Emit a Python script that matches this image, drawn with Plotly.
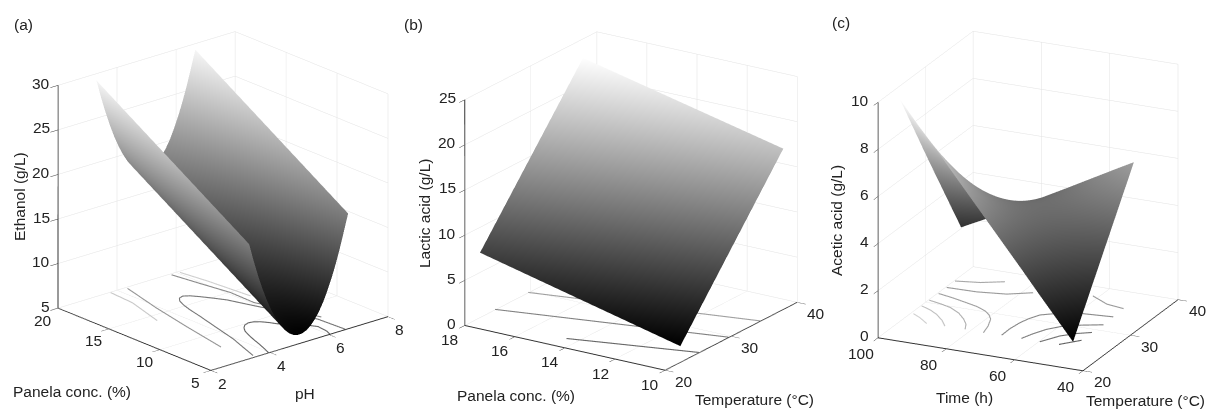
import plotly.graph_objects as go

FONT = "Liberation Sans, Arial, sans-serif"
TEXT = "#222222"
W, H = 1208, 410

# ---------- panel (a) ----------
a_ph = [3.3,3.45,3.6,3.75,3.9,4.05,4.2,4.35,4.5,4.65,4.8,4.95,5.09,5.24,5.38,5.52,5.66,5.8,5.94,6.08,6.22,6.36,6.5,6.65]
a_panela = [5, 10, 15, 20]
a_z5  = [17.85,15.85,14.04,12.41,10.96,9.70,8.62,7.73,7.03,6.50,6.16,6.01,6.04,6.25,6.63,7.18,7.91,8.81,9.90,11.15,12.58,14.19,15.97,17.93]
a_z10 = [21.65,19.65,17.84,16.21,14.76,13.50,12.42,11.53,10.83,10.30,9.96,9.81,9.84,10.05,10.43,10.98,11.71,12.61,13.70,14.95,16.38,17.99,19.77,21.73]
a_z15 = [25.45,23.45,21.64,20.01,18.56,17.30,16.22,15.33,14.63,14.10,13.76,13.61,13.64,13.85,14.23,14.78,15.51,16.41,17.50,18.75,20.18,21.79,23.57,25.53]
a_z20 = [29.25,27.25,25.44,23.81,22.36,21.10,20.02,19.13,18.43,17.90,17.56,17.41,17.44,17.65,18.03,18.58,19.31,20.21,21.30,22.55,23.98,25.59,27.37,29.33]
a_contours = [
    ([3.95,4.16,4.28,4.41,4.52,4.65,4.8,4.98,5.12,5.26,5.38,5.49,5.9,6.15,6.1,6.02],
     [5,6.44,7.4,8.32,8.95,9.43,9.78,9.94,9.85,9.58,9.15,8.6,7.6,6.5,5.5,5], "#666666"),
    ([3.51,3.71,3.92,4.07,4.22,4.35,4.47,4.57,4.68,4.82,4.98,5.13,5.28,5.46,5.65,5.96,6.3,6.5,6.55],
     [5.24,6.8,8.4,10.0,11.56,12.9,14.25,15.15,15.82,16.25,16.37,16.1,15.58,14.85,13.99,11.61,9.5,7.5,5], "#777777"),
    ([4.27,3.9,3.6,3.29], [19.76,15.88,12.07,7.74], "#959595"),
    ([3.74,3.68,3.31], [19.87,17.57,14.06], "#c8c8c8"),
    ([5.77,5.91,6.07,6.05,6.67], [19.78,17.39,14.87,12.5,7.69], "#8a8a8a"),
    ([6.05,6.17,6.3], [19.76,17.47,13.56], "#cfcfcf"),
]
a_xt, a_yt, a_zt = [2,4,6,8], [5,10,15,20], [5,10,15,20,25,30]

# ---------- panel (b) ----------
b_temp = [22.3, 37.9]
b_panela = [10, 18]
b_z10 = [1.8, 17.8]
b_z18 = [7.2, 22.9]
b_contours = [
    ([21.9,25.1], [14.44,10], "#666666"),
    ([24.6,29.6], [18,10], "#808080"),
    ([29.6,34.4], [18,10], "#a0a0a0"),
]
b_xt, b_yt, b_zt = [20,30,40], [10,12,14,16,18], [0,5,10,15,20,25]

# ---------- panel (c) ----------
c_temp = [23.6,24.88,26.16,27.44,28.72,30.0,31.28,32.56,33.84,35.12,36.4]
c_time = [47.9,52.9,57.9,62.8,67.8,72.8,77.8,82.8,87.7,93.0,98.5]
c_z = [
    [0.50,1.07,1.64,2.21,2.78,3.35,3.92,4.49,5.06,5.63,6.20],
    [1.40,1.84,2.28,2.72,3.16,3.60,4.04,4.48,4.92,5.36,5.81],
    [2.30,2.61,2.92,3.23,3.54,3.86,4.17,4.48,4.79,5.10,5.41],
    [3.20,3.38,3.56,3.74,3.93,4.11,4.29,4.47,4.65,4.83,5.02],
    [4.10,4.15,4.20,4.26,4.31,4.36,4.41,4.46,4.52,4.57,4.62],
    [5.00,4.92,4.85,4.77,4.69,4.61,4.54,4.46,4.38,4.30,4.23],
    [5.90,5.69,5.49,5.28,5.07,4.87,4.66,4.45,4.24,4.04,3.83],
    [6.80,6.46,6.13,5.79,5.45,5.12,4.78,4.44,4.11,3.77,3.44],
    [7.70,7.23,6.77,6.30,5.84,5.37,4.90,4.44,3.97,3.51,3.04],
    [8.60,8.00,7.41,6.81,6.22,5.62,5.03,4.43,3.84,3.24,2.65],
    [9.60,8.85,8.10,7.36,6.61,5.88,5.15,4.43,3.70,2.98,2.25],
]
c_contours = [
    ([35.9,36.5,37.6], [99.6,93.0,87.3], "#a8a8a8"),
    ([34.1,34.2,34.8,36.1], [99.5,90.8,82.9,77.0], "#9a9a9a"),
    ([32.4,31.9,31.3,30.8,30.1,29.3,28.4,26.7,25.0], [99.5,94.5,89.8,86.0,82.7,80.4,78.7,77.1,76.1], "#a0a0a0"),
    ([30.5,30.1,29.6,28.6,27.4,26.3,25.1], [99.6,95.8,92.2,88.3,85.2,83.0,81.6], "#b0b0b0"),
    ([28.9,28.3,27.5,26.3,25.1], [99.6,96.3,93.3,90.0,87.5], "#c0c0c0"),
    ([26.8,26.1,25.0], [99.1,96.2,92.7], "#d0d0d0"),
    ([25.1,26.9,28.7,30.0,31.2,32.2,33.1,33.5], [70.9,71.0,70.5,69.6,68.2,64.6,58.6,49.9], "#8a8a8a"),
    ([25.1,26.6,28.1,29.8,31.3], [65.1,63.8,62.0,58.4,49.7], "#808080"),
    ([25.0,27.1,28.3,29.1], [59.6,56.6,53.3,50.0], "#707070"),
    ([25.1,26.9], [54.1,50.0], "#606060"),
    ([37.6,36.2,35.8], [61.6,55.5,50.1], "#999999"),
]
c_xt, c_yt, c_zt = [20,30,40], [40,60,80,100], [0,2,4,6,8,10]

panels = [
    dict(scene="scene", x=a_ph, y=a_panela, z=[a_z5,a_z10,a_z15,a_z20], cmin=6, cmax=30.2,
         contours=a_contours, xt=a_xt, yt=a_yt, zt=a_zt, eye=(-.612,-.709,.352),
         dom=(0,446), aspect=(1.164,1.164,1.184), xshift=(12,-13), yshift=(-15,-12), zshift=-6),
    dict(scene="scene2", x=b_temp, y=b_panela, z=[b_z10,b_z18], cmin=1.8, cmax=23,
         contours=b_contours, xt=b_xt, yt=b_yt, zt=b_zt, eye=(-.786,-.518,.339),
         dom=(446,816), aspect=(1.194,1.194,1.194), xshift=(19,-11), yshift=(-15,-14), zshift=-7),
    dict(scene="scene3", x=c_temp, y=c_time, z=c_z, cmin=0.5, cmax=9.7,
         contours=c_contours, xt=c_xt, yt=c_yt, zt=c_zt, eye=(-.851,-.395,.347),
         dom=(848,1208), aspect=(1.124,1.124,1.249), xshift=(20,-11), yshift=(-17,-16), zshift=-7),
]

fig = go.Figure()
layout = {}

def axis(vals):
    return dict(range=[vals[0], vals[-1]], tickmode="array", tickvals=vals,
                showticklabels=False, title=dict(text=""), showbackground=False,
                showgrid=True, gridcolor="#e2e2e2", gridwidth=1,
                showline=True, linecolor="#333333", linewidth=2,
                ticks="outside", ticklen=10, tickcolor="#333333", tickwidth=1,
                zeroline=False, showspikes=False, autorange=False)

def tick_note(x, y, z, text, xshift, yshift, xanchor="center"):
    return dict(x=x, y=y, z=z, text=str(text), showarrow=False, xanchor=xanchor, yanchor="middle",
                xshift=xshift, yshift=yshift, font=dict(family=FONT, size=15.5, color=TEXT))

for p in panels:
    fig.add_trace(go.Surface(x=p["x"], y=p["y"], z=p["z"], scene=p["scene"], showscale=False,
                             cmin=p["cmin"], cmax=p["cmax"],
                             colorscale=[[0,"#000000"],[1,"#ffffff"]],
                             lighting=dict(ambient=1,diffuse=0,specular=0,fresnel=0,roughness=1),
                             hoverinfo="skip"))
    floor = p["zt"][0] + (p["zt"][-1] - p["zt"][0]) * 0.002
    for cx, cy, col in p["contours"]:
        fig.add_trace(go.Scatter3d(x=cx, y=cy, z=[floor]*len(cx), mode="lines", scene=p["scene"],
                                   line=dict(color=col, width=2.2), showlegend=False, hoverinfo="skip"))
    xt, yt, zt = p["xt"], p["yt"], p["zt"]
    notes = []
    for v in xt:
        notes.append(tick_note(v, yt[0], zt[0], v, *p["xshift"]))
    for v in yt:
        notes.append(tick_note(xt[0], v, zt[0], v, *p["yshift"]))
    for v in zt:
        notes.append(tick_note(xt[0], yt[-1], v, v, p["zshift"], 2, "right"))
    d = 1.8
    layout[p["scene"]] = dict(
        domain=dict(x=[p["dom"][0]/W, p["dom"][1]/W], y=[8/H, 1]),
        xaxis=axis(xt), yaxis=axis(yt), zaxis=axis(zt),
        aspectmode="manual", aspectratio=dict(x=p["aspect"][0], y=p["aspect"][1], z=p["aspect"][2]),
        camera=dict(eye=dict(x=p["eye"][0]*d, y=p["eye"][1]*d, z=p["eye"][2]*d),
                    center=dict(x=0,y=0,z=0), up=dict(x=0,y=0,z=1),
                    projection=dict(type="orthographic")),
        bgcolor="rgba(0,0,0,0)", annotations=notes)

labels = [
    ("(a)", 23, 24, 0), ("(b)", 414, 24, 0), ("(c)", 841, 22, 0),
    ("Ethanol (g/L)", 19, 197, -90), ("Panela conc. (%)", 72, 391, 0), ("pH", 305, 393, 0),
    ("Lactic acid (g/L)", 424, 214, -90), ("Panela conc. (%)", 516, 395, 0), ("Temperature (°C)", 754, 399, 0),
    ("Acetic acid (g/L)", 836, 221, -90), ("Time (h)", 964, 397, 0), ("Temperature (°C)", 1145, 400, 0),
]
ann = [dict(text=t, x=px/W, y=1-py/H, xref="paper", yref="paper", showarrow=False, xanchor="center",
            yanchor="middle", textangle=ang, font=dict(family=FONT, size=15.5, color=TEXT))
       for t, px, py, ang in labels]

fig.update_layout(width=W, height=H, autosize=False, margin=dict(l=0,r=0,t=0,b=0),
                  paper_bgcolor="white", showlegend=False, annotations=ann, **layout)
fig.write_html("out.html", config=dict(displayModeBar=False),
               post_script="document.body.style.margin='0';document.body.style.overflow='hidden';")
